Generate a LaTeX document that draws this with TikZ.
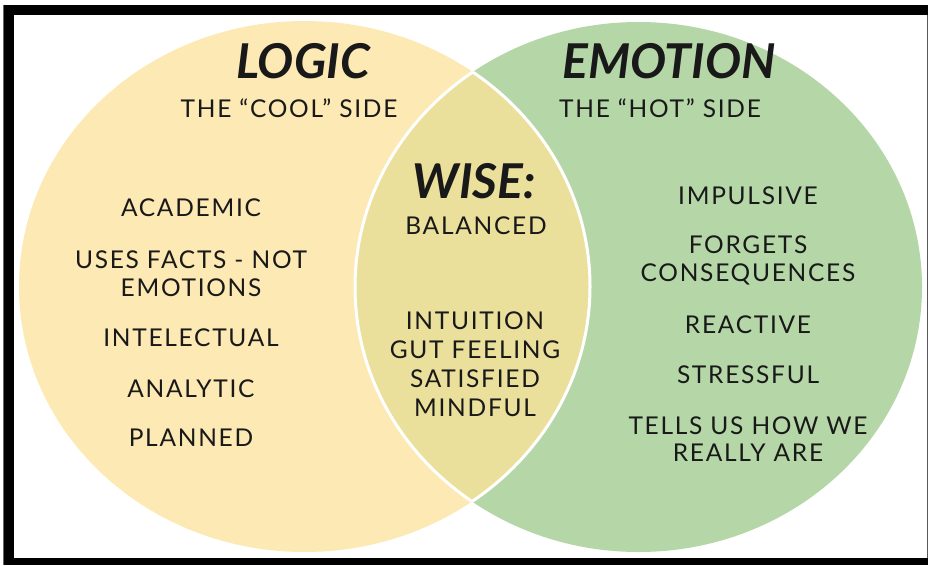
\documentclass[tikz,border=0pt]{standalone}
\usepackage{fontspec}
\setmainfont{Lato}
\definecolor{logicfill}{RGB}{253,233,179}
\definecolor{emofill}{RGB}{181,215,168}
\definecolor{wisefill}{RGB}{235,224,155}
\definecolor{inkcol}{RGB}{25,25,25}
\begin{document}
\begin{tikzpicture}[x=1pt,y=-1pt,
  title/.style={font=\fontsize{48}{48}\selectfont\bfseries\itshape, inner sep=0pt, anchor=base, text=inkcol},
  item/.style={font=\fontsize{24.5}{24.5}\selectfont\addfontfeatures{LetterSpace=7}, inner sep=0pt, anchor=base, text=inkcol},
  lefte/.style={x radius=285.5pt, y radius=265.5pt},
  righte/.style={x radius=283.5pt, y radius=265pt},
]
\useasboundingbox (0,0) rectangle (929,565);
\fill[white] (0,0) rectangle (929,565);
% frame
\fill[black] (4,5) rectangle (928,15);
\fill[black] (4,5) rectangle (14,565);
\fill[black] (4,558) rectangle (928,565);
\fill[black!60] (3,5) rectangle (4,565);
\fill[black!65] (926.8,15) rectangle (928,558);
% circles
\fill[logicfill] (304.5,286.5) ellipse [lefte];
\fill[emofill] (638.5,287) ellipse [righte];
\begin{scope}
  \clip (304.5,286.5) ellipse [lefte];
  \fill[wisefill] (638.5,287) ellipse [righte];
  \draw[white, line width=3pt] (638.5,287) ellipse [righte];
\end{scope}
\begin{scope}
  \clip (638.5,287) ellipse [righte];
  \draw[white, line width=3pt] (304.5,286.5) ellipse [lefte];
\end{scope}
% titles
\node[title] (logic) at (303,78) {LOGIC};
\node[item] (cool) at (289,117) {THE “COOL” SIDE};
\node[title] (emotion) at (669,78) {EMOTION};
\node[item] (hot) at (660,117) {THE “HOT” SIDE};
\node[title] (wise) at (474,198) {WISE:};
\node[item] (balanced) at (476,234) {BALANCED};
% wise list
\node[item] (intuition) at (475,329) {INTUITION};
\node[item] (gut) at (475,358) {GUT FEELING};
\node[item] (satisfied) at (475,387) {SATISFIED};
\node[item] (mindful) at (475,416) {MINDFUL};
% logic list
\node[item] (academic) at (191,216) {ACADEMIC};
\node[item] (uses) at (191,268) {USES FACTS - NOT};
\node[item] (emotions) at (191,296) {EMOTIONS};
\node[item] (intel) at (191,346) {INTELECTUAL};
\node[item] (analytic) at (191,397) {ANALYTIC};
\node[item] (planned) at (191,446) {PLANNED};
% emotion list
\node[item] (impulsive) at (748,204) {IMPULSIVE};
\node[item] (forgets) at (748,253) {FORGETS};
\node[item] (conseq) at (748,281) {CONSEQUENCES};
\node[item] (reactive) at (748,333) {REACTIVE};
\node[item] (stressful) at (748,383) {STRESSFUL};
\node[item] (tells) at (748,434) {TELLS US HOW WE};
\node[item] (really) at (748,461) {REALLY ARE};
\end{tikzpicture}
\end{document}
